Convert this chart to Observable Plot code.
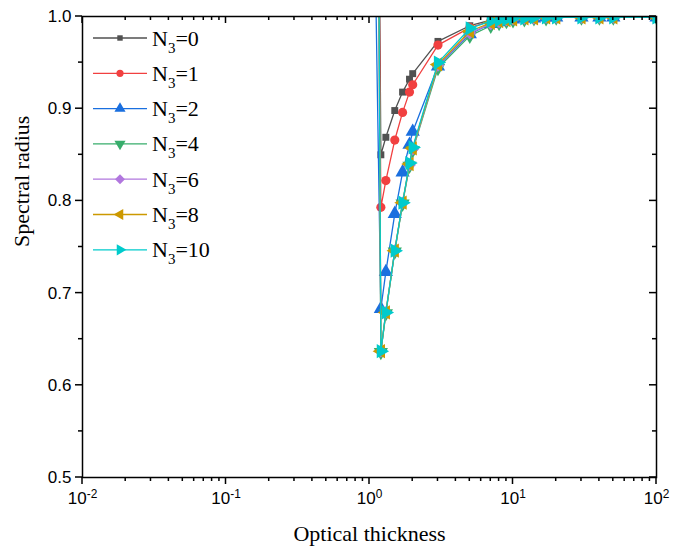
<!DOCTYPE html>
<html><head><meta charset="utf-8">
<script src="https://cdn.jsdelivr.net/npm/d3@7"></script>
<script src="https://cdn.jsdelivr.net/npm/@observablehq/plot@0.6"></script>
<style>
body{margin:0;background:#fff;}
#chart{width:689px;height:554px;}
</style></head><body><div id="chart"></div>
<script>
// ---- data ----
const xValues = [1, 1.2, 1.3, 1.5, 1.7, 1.9, 2, 3, 5, 7, 8, 9, 10, 12, 14, 17, 20, 30, 40, 50, 100];
const n3Labels = ["0", "1", "2", "4", "6", "8", "10"];
const valsN0  = [2.5, 0.850, 0.869, 0.898, 0.918, 0.932, 0.938, 0.973, 0.990, 0.996, 0.997, 0.998, 0.999, 0.999, 0.999, 0.999, 0.999, 0.999, 0.999, 0.999, 0.999];
const valsN1  = [2.5, 0.793, 0.822, 0.866, 0.896, 0.918, 0.926, 0.969, 0.988, 0.995, 0.997, 0.998, 0.999, 0.999, 0.999, 0.999, 0.999, 0.999, 0.999, 0.999, 0.999];
const valsN2  = [1.45, 0.683, 0.723, 0.786, 0.831, 0.861, 0.875, 0.946, 0.981, 0.992, 0.994, 0.996, 0.997, 0.998, 0.998, 0.999, 0.999, 0.999, 0.999, 0.999, 0.999];
const valsN4  = [3.0, 0.636, 0.678, 0.745, 0.797, 0.838, 0.855, 0.944, 0.979, 0.990, 0.993, 0.995, 0.996, 0.997, 0.998, 0.998, 0.999, 0.999, 0.999, 0.999, 0.999];
const valsN6  = [3.0, 0.637, 0.679, 0.746, 0.798, 0.839, 0.856, 0.947, 0.982, 0.992, 0.994, 0.996, 0.997, 0.998, 0.998, 0.999, 0.999, 0.999, 0.999, 0.999, 0.999];
const valsN8  = [3.0, 0.637, 0.679, 0.746, 0.798, 0.840, 0.857, 0.948, 0.984, 0.993, 0.995, 0.996, 0.997, 0.998, 0.998, 0.999, 0.999, 0.999, 0.999, 0.999, 0.999];
const valsN10 = [3.0, 0.637, 0.679, 0.746, 0.798, 0.841, 0.858, 0.950, 0.987, 0.995, 0.996, 0.997, 0.998, 0.998, 0.999, 0.999, 0.999, 0.999, 0.999, 0.999, 0.999];
const colors = ["#515151", "#F14040", "#1A6FDF", "#37AD6B", "#B177DE", "#CC9900", "#00CBCC"];
const xMajorTicks = [0.01, 0.1, 1, 10, 100];
const xTickExponents = ["-2", "-1", "0", "1", "2"];
const yMajorTicks = [0.5, 0.6, 0.7, 0.8, 0.9, 1.0];
const yTickLabels = ["0.5", "0.6", "0.7", "0.8", "0.9", "1.0"];
const yMinorTicks = [0.55, 0.65, 0.75, 0.85, 0.95];
const xMinorTicks = [2,3,4,5,6,7,8,9].flatMap(m => [0.01, 0.1, 1, 10].map(d => m * d));
const xTitle = "Optical thickness";
const yTitle = "Spectral radius";

// ---- symbols ----
function triSym(angleDeg) {
  return {draw(ctx, size) {
    const y = -Math.sqrt(size / (Math.sqrt(3) * 3));
    const pts = [[0, 2 * y], [-Math.sqrt(3) * y, -y], [Math.sqrt(3) * y, -y]];
    const a = angleDeg * Math.PI / 180, c = Math.cos(a), s = Math.sin(a);
    pts.forEach(([px, py], i) => { const X = px * c - py * s, Y = px * s + py * c; i ? ctx.lineTo(X, Y) : ctx.moveTo(X, Y); });
    ctx.closePath();
  }};
}
const diamondSym = {draw(ctx, size) {
  const r = Math.sqrt(size / 2);
  ctx.moveTo(0, -r); ctx.lineTo(r, 0); ctx.lineTo(0, r); ctx.lineTo(-r, 0); ctx.closePath();
}};
const symbols = [d3.symbolSquare, d3.symbolCircle, triSym(0), triSym(180), diamondSym, triSym(-90), triSym(90)];
const symScale = [0.85, 1.0, 1.15, 1.15, 1.1, 1.15, 1.15];

const allVals = [valsN0, valsN1, valsN2, valsN4, valsN6, valsN8, valsN10];
const series = n3Labels.map((lab, i) => xValues.map((x, j) => ({x, y: allVals[i][j], k: i})));

const W = 689, H = 554, mL = 82, mR = 33, mT = 16, mB = 77;
const serif = "Liberation Serif, Times New Roman, serif";

const marks = [];
series.forEach((s, i) => {
  marks.push(Plot.line(s, {x: "x", y: "y", stroke: colors[i], strokeWidth: 1.3, clip: true}));
  marks.push(Plot.dot(s, {x: "x", y: "y", fill: colors[i], stroke: "none", r: 4.6 * symScale[i], symbol: symbols[i], clip: true}));
});
marks.push(
  Plot.frame({stroke: "#000", strokeWidth: 1.5}),
  Plot.axisX({ticks: xMajorTicks, tickSize: 0, tickPadding: 14, tickFormat: d => "10^" + xTickExponents[xMajorTicks.indexOf(d)], label: null, fontSize: 17}),
  Plot.axisY({ticks: yMajorTicks, tickSize: 0, tickPadding: 11, tickFormat: d => yTickLabels[yMajorTicks.indexOf(d)], label: null, fontSize: 17}),
  Plot.text([xTitle], {text: d => d, frameAnchor: "bottom", dy: 63, fontSize: 22, fontFamily: serif}),
  Plot.text([yTitle], {text: d => d, frameAnchor: "left", dx: -61, rotate: -90, fontSize: 22, fontFamily: serif})
);

const chart = Plot.plot({
  width: W, height: H,
  marginLeft: mL, marginRight: mR, marginTop: mT, marginBottom: mB,
  x: {type: "log", domain: [0.01, 100]},
  y: {domain: [0.5, 1.0]},
  style: {fontFamily: "Liberation Sans, Arial, sans-serif", fontSize: "17px", color: "#000", background: "#fff", overflow: "visible"},
  marks
});
document.getElementById("chart").appendChild(chart);

// superscript exponents on x tick labels
d3.select(chart).selectAll('g[aria-label="x-axis tick label"] text').each(function() {
  const t = d3.select(this);
  const s = t.text();
  if (!s.startsWith("10^")) return;
  const exp = s.slice(3);
  t.text(null);
  t.append("tspan").text("10");
  t.append("tspan").attr("dy", "-0.45em").attr("font-size", "0.7em").text(exp);
});

// tick marks through the plot's own scales (outward bottom/left, inward top/right), as filled rects
const sx = chart.scale("x"), sy = chart.scale("y");
const yTop = mT, yBot = H - mB, xLeft = mL, xRight = W - mR;
const tg = d3.select(chart).append("g").attr("aria-label", "ticks").attr("fill", "#000").attr("stroke", "none");
const tw = 1.5;
function xt(vals, len) {
  vals.forEach(v => {
    const X = sx.apply(v) - tw / 2;
    tg.append("rect").attr("x", X).attr("y", yBot).attr("width", tw).attr("height", len);
    tg.append("rect").attr("x", X).attr("y", yTop).attr("width", tw).attr("height", len);
  });
}
function yt(vals, len) {
  vals.forEach(v => {
    const Y = sy.apply(v) - tw / 2;
    tg.append("rect").attr("x", xLeft - len).attr("y", Y).attr("width", len).attr("height", tw);
    tg.append("rect").attr("x", xRight - len).attr("y", Y).attr("width", len).attr("height", tw);
  });
}
xt(xMajorTicks, 7); xt(xMinorTicks, 4);
yt(yMajorTicks, 7); yt(yMinorTicks, 4);

// legend, drawn into the plot's own svg
const leg = d3.select(chart).append("g").attr("aria-label", "legend").attr("text-anchor", "start");
const lx0 = 93, lx1 = 147, ly0 = 38, ldy = 35.3;
n3Labels.forEach((lab, i) => {
  const y = ly0 + i * ldy;
  const g = leg.append("g");
  g.append("line").attr("x1", lx0).attr("x2", lx1).attr("y1", y).attr("y2", y).attr("stroke", colors[i]).attr("stroke-width", 1.3);
  g.append("path").attr("transform", `translate(${(lx0 + lx1) / 2},${y})`).attr("fill", colors[i])
    .attr("d", d3.symbol(symbols[i], Math.PI * Math.pow(3.6 * symScale[i], 2))());
  const t = g.append("text").attr("x", 152).attr("y", y + 7.5).attr("text-anchor", "start").attr("font-family", serif).attr("font-size", 22).attr("fill", "#000");
  t.append("tspan").text("N");
  t.append("tspan").attr("dy", 7).attr("font-size", 15).text("3");
  t.append("tspan").attr("dy", -7).text("=" + lab);
});
</script></body></html>
